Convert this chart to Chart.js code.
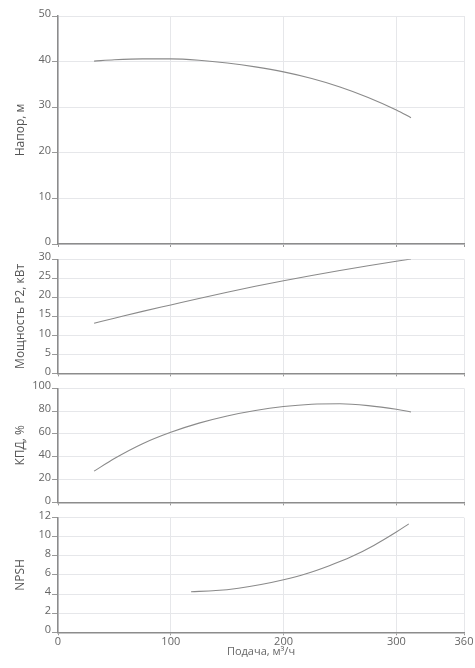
<!DOCTYPE html>
<html><head><meta charset="utf-8">
<script src="https://cdn.jsdelivr.net/npm/chart.js@4.4.0/dist/chart.umd.min.js"></script>
<style>
html,body{margin:0;padding:0;background:#fff;width:475px;height:668px;overflow:hidden}
.box{position:absolute;left:0;width:475px}
</style></head><body>
<div class="box" style="top:0;height:258px"><canvas id="c1"></canvas></div>
<div class="box" style="top:246px;height:135px"><canvas id="c2"></canvas></div>
<div class="box" style="top:375px;height:135px"><canvas id="c3"></canvas></div>
<div class="box" style="top:504px;height:164px"><canvas id="c4"></canvas></div>
<script>
// ---- data ----
const xTicks = [0, 100, 200, 300, 360];
const xTitle = 'Подача, м³/ч';

const headQ = [32, 50, 75, 100, 125, 150, 175, 200, 225, 250, 275, 300, 313];
const headH = [40.1, 40.4, 40.6, 40.6, 40.3, 39.7, 38.85, 37.75, 36.3, 34.45, 32.15, 29.4, 27.7];
const headTicks = [0, 10, 20, 30, 40, 50];
const headTitle = 'Напор, м';

const powerQ = [32, 50, 75, 100, 125, 150, 175, 200, 225, 250, 275, 300, 313];
const powerP = [13.2, 14.5, 16.3, 18.0, 19.7, 21.35, 22.9, 24.35, 25.75, 27.05, 28.3, 29.5, 30.1];
const powerTicks = [0, 5, 10, 15, 20, 25, 30];
const powerTitle = 'Мощность Р2, кВт';

const effQ = [32, 50, 75, 100, 125, 150, 175, 200, 225, 250, 275, 300, 313];
const effE = [27.4, 38.5, 51.5, 61.5, 69.5, 75.8, 80.6, 84.0, 86.0, 86.4, 84.8, 81.6, 79.3];
const effTicks = [0, 20, 40, 60, 80, 100];
const effTitle = 'КПД, %';

const npshQ = [118, 140, 160, 180, 200, 220, 240, 260, 280, 300, 311];
const npshN = [4.25, 4.37, 4.62, 5.0, 5.5, 6.13, 6.95, 7.9, 9.1, 10.5, 11.35];
const npshTicks = [0, 2, 4, 6, 8, 10, 12];
const npshTitle = 'NPSH';

// ---- chart builder ----
const FONT = "'Open Sans', sans-serif";
function pts(xs, ys) { return xs.map((x, i) => ({x: x, y: ys[i]})); }

function build(id, xs, ys, yTicks, yTitle, padTop, xHeight, showX) {
  new Chart(document.getElementById(id), {
    type: 'line',
    data: { datasets: [{
      data: pts(xs, ys),
      borderColor: '#8a8a8a', borderWidth: 1.1,
      pointRadius: 0, fill: false, cubicInterpolationMode: 'monotone'
    }]},
    options: {
      responsive: true, maintainAspectRatio: false, animation: false,
      layout: { padding: { top: padTop, right: 11, bottom: 0, left: 0 } },
      plugins: { legend: { display: false }, tooltip: { enabled: false } },
      scales: {
        x: {
          type: 'linear', min: xTicks[0], max: xTicks[xTicks.length - 1],
          afterBuildTicks: s => { s.ticks = xTicks.map(v => ({value: v})); },
          afterFit: s => { s.height = xHeight; },
          grid: { color: '#e6e7ea', lineWidth: 1, tickLength: 3, tickColor: '#9a9a9a' },
          border: { color: '#8c8c8c', width: 1.5 },
          ticks: { display: showX, color: '#666', font: { family: FONT, size: 11 }, padding: 0, maxRotation: 0 },
          title: { display: showX, text: xTitle, color: '#666', font: { family: FONT, size: 11 }, padding: { top: 0, bottom: 10 } }
        },
        y: {
          type: 'linear', min: yTicks[0], max: yTicks[yTicks.length - 1],
          afterBuildTicks: s => { s.ticks = yTicks.map(v => ({value: v})); },
          afterFit: s => { s.width = 58; },
          grid: { color: '#e6e7ea', lineWidth: 1, tickLength: 6, tickColor: '#9a9a9a' },
          border: { color: '#8c8c8c', width: 1.5 },
          ticks: { color: '#666', font: { family: FONT, size: 11 }, padding: 1, labelOffset: -2 },
          title: { display: true, text: yTitle, color: '#555', font: { family: FONT, size: 12 }, padding: { top: 13, bottom: 0 } }
        }
      }
    }
  });
}

build('c1', headQ, headH, headTicks, headTitle, 16, 14, false);
build('c2', powerQ, powerP, powerTicks, powerTitle, 13.3, 7.5, false);
build('c3', effQ, effE, effTicks, effTitle, 13.3, 7.5, false);
build('c4', npshQ, npshN, npshTicks, npshTitle, 13.7, 35.7, true);
</script>
</body></html>
